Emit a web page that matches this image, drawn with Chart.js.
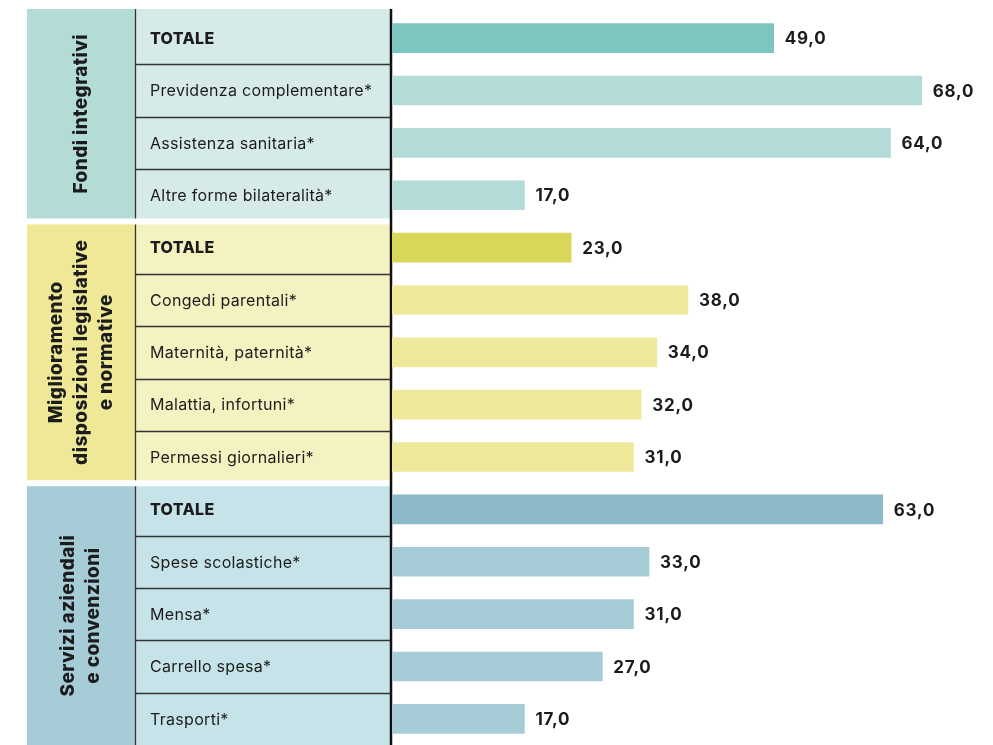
<!DOCTYPE html>
<html>
<head>
<meta charset="utf-8">
<script src="https://cdn.jsdelivr.net/npm/chart.js@4"></script>
<style>
  body { margin: 0; background: #fff; }
  canvas { display: block; }
</style>
</head>
<body>
<canvas id="chart" width="993" height="745"></canvas>
<script>
// data
var categories = [
    "TOTALE", "Previdenza complementare*", "Assistenza sanitaria*", "Altre forme bilateralità*",
    "TOTALE", "Congedi parentali*", "Maternità, paternità*", "Malattia, infortuni*", "Permessi giornalieri*",
    "TOTALE", "Spese scolastiche*", "Mensa*", "Carrello spesa*", "Trasporti*"
];
var values = [49, 68, 64, 17, 23, 38, 34, 32, 31, 63, 33, 31, 27, 17];
var groupNames = [
    ["Fondi integrativi"],
    ["Miglioramento", "disposizioni legislative", "e normative"],
    ["Servizi aziendali", "e convenzioni"]
];
var groupSizes = [4, 5, 5];

// colours per group: [total bar, other bars, group cell, label cell]
var groupColors = [
    ["#7cc6bf", "#b3dcd8", "#b3dcd7", "#d6ebe9"],
    ["#d8d75a", "#efe99b", "#efe897", "#f5f2c2"],
    ["#8cb8c7", "#a6cdd7", "#a6cdd7", "#c6e3e9"]
];

var barColors = [];
groupSizes.forEach(function (n, g) {
    for (var i = 0; i < n; i++) barColors.push(i === 0 ? groupColors[g][0] : groupColors[g][1]);
});

var FONT = "Inter, 'Noto Sans', sans-serif";
var TEXT = "#1c1c1c";

var tablePlugin = {
    id: "table",
    beforeDatasetsDraw: function (chart) {
        var ctx = chart.ctx, y = chart.scales.y, area = chart.chartArea;
        var step = y.getPixelForValue(1) - y.getPixelForValue(0);
        var start = 0;
        ctx.save();
        groupSizes.forEach(function (n, g) {
            var top = g === 0 ? 9 : y.getPixelForValue(start) - step / 2 + 3;
            var bottom = g === groupSizes.length - 1 ? area.bottom : y.getPixelForValue(start + n - 1) + step / 2 - 3;
            ctx.fillStyle = groupColors[g][2];
            ctx.fillRect(27, top, 108, bottom - top);
            ctx.fillStyle = groupColors[g][3];
            ctx.fillRect(135, top, 256, bottom - top);

            ctx.strokeStyle = "#333";
            ctx.lineWidth = 1.3;
            for (var i = 1; i < n; i++) {
                var yy = Math.round(y.getPixelForValue(start + i) - step / 2) + 0.5;
                ctx.beginPath();
                ctx.moveTo(135, yy);
                ctx.lineTo(391, yy);
                ctx.stroke();
            }
            ctx.beginPath();
            ctx.moveTo(135.5, top);
            ctx.lineTo(135.5, bottom);
            ctx.stroke();

            // row labels
            ctx.fillStyle = TEXT;
            ctx.textAlign = "left";
            ctx.textBaseline = "middle";
            ctx.letterSpacing = "0.3px";
            for (var j = 0; j < n; j++) {
                ctx.font = (j === 0 ? "800 " : "") + "16px " + FONT;
                ctx.fillText(categories[start + j], 150, y.getPixelForValue(start + j) + 1);
            }

            // group label, rotated
            var lines = groupNames[g];
            ctx.save();
            ctx.translate(81, (top + bottom) / 2);
            ctx.rotate(-Math.PI / 2);
            ctx.textAlign = "center";
            ctx.letterSpacing = "0.4px";
            ctx.font = "800 19px " + FONT;
            lines.forEach(function (t, k) {
                ctx.fillText(t, 0, (k - (lines.length - 1) / 2) * 25);
            });
            ctx.restore();

            start += n;
        });

        // axis line
        ctx.strokeStyle = "#111";
        ctx.lineWidth = 2.5;
        ctx.beginPath();
        ctx.moveTo(391, 9);
        ctx.lineTo(391, area.bottom);
        ctx.stroke();
        ctx.restore();
    },
    afterDatasetsDraw: function (chart) {
        var ctx = chart.ctx;
        var meta = chart.getDatasetMeta(0);
        ctx.save();
        ctx.fillStyle = TEXT;
        ctx.font = "bold 17px " + FONT;
        ctx.letterSpacing = "0.8px";
        ctx.textAlign = "left";
        ctx.textBaseline = "middle";
        meta.data.forEach(function (bar, i) {
            ctx.fillText(values[i].toFixed(1).replace(".", ","), bar.x + 11, bar.y + 1);
        });
        ctx.restore();
    }
};

var ctxB = document.getElementById("chart").getContext("2d");
var myBarChart = new Chart(ctxB, {
    type: "bar",
    data: {
        labels: categories,
        datasets: [{
            data: values,
            backgroundColor: barColors,
            borderWidth: 0,
            barThickness: 29
        }]
    },
    options: {
        indexAxis: "y",
        responsive: false,
        animation: false,
        devicePixelRatio: 1,
        layout: { padding: { left: 392, right: 9, top: 12, bottom: 0 } },
        scales: {
            x: { display: false, min: 0, max: 76 },
            y: { display: false }
        },
        plugins: {
            legend: { display: false },
            tooltip: { enabled: false }
        }
    },
    plugins: [tablePlugin]
});
</script>
</body>
</html>
